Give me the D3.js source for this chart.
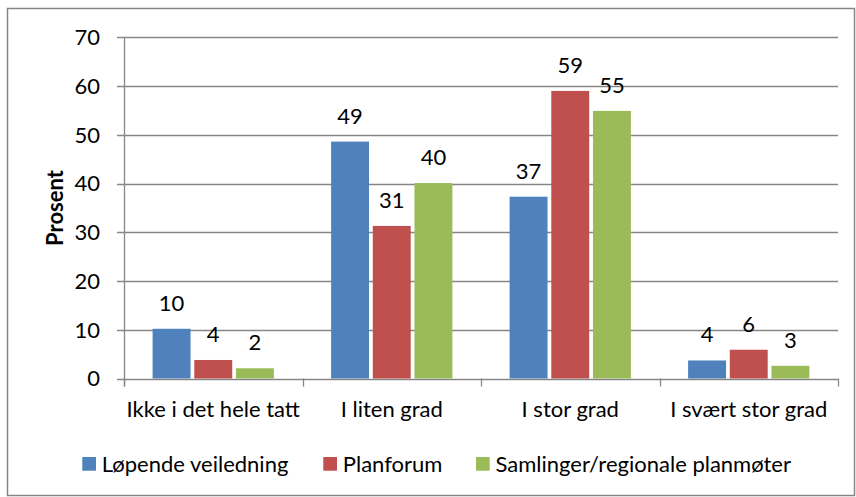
<!DOCTYPE html>
<html>
<head>
<meta charset="utf-8">
<script src="https://cdn.jsdelivr.net/npm/d3@7"></script>
<style>
  body { margin: 0; background: #fff; }
  text { font-family: "Lato", "Open Sans", sans-serif; fill: #000; }
</style>
</head>
<body>
<div id="chart"></div>
<script>
// Categories, series and values
let categories = ["Ikke i det hele tatt", "I liten grad", "I stor grad", "I svært stor grad"];
let series = ["Løpende veiledning", "Planforum", "Samlinger/regionale planmøter"];
let colors = ["#4F81BD", "#C0504D", "#9BBB59"];
let lopende = [10.2, 48.6, 37.3, 3.7];
let planforum = [3.8, 31.3, 59.0, 5.9];
let samlinger = [2.1, 40.1, 54.9, 2.6];
let y_ticks = [0, 10, 20, 30, 40, 50, 60, 70];

let width = 856, height = 497;
let plot = {left: 124, right: 838, top: 37.3, bottom: 378.5};
let axis_color = "#868686";
let font_size = "22px";

let svg = d3.select("#chart")
            .append("svg")
            .attr("width", width)
            .attr("height", height);

// outer chart frame
svg.append("rect")
   .attr("x", 7.5).attr("y", 8.5)
   .attr("width", 847).attr("height", 487)
   .style("fill", "none")
   .style("stroke", axis_color)
   .style("stroke-width", 1.5);

let x0 = d3.scaleBand()
           .domain(categories)
           .range([plot.left, plot.right]);

let x1 = d3.scaleBand()
           .domain(series)
           .range([0, 121.3])
           .paddingInner(0.09);

let y = d3.scaleLinear()
          .domain([0, 70])
          .range([plot.bottom, plot.top]);

// gridlines
svg.append("g")
   .selectAll("line")
   .data(y_ticks)
   .enter()
   .append("line")
   .attr("x1", plot.left - 7)
   .attr("x2", plot.right)
   .attr("y1", d => Math.round(y(d)) + 0.5)
   .attr("y2", d => Math.round(y(d)) + 0.5)
   .style("stroke", axis_color)
   .style("stroke-width", 1.3);

// y tick labels
svg.append("g")
   .selectAll("text")
   .data(y_ticks)
   .enter()
   .append("text")
   .attr("x", 100)
   .attr("y", d => y(d))
   .attr("dy", "0.36em")
   .attr("text-anchor", "end")
   .style("font-size", font_size)
   .text(d => d);

// bars
let rows = categories.map((c, i) => ({cat: c, vals: [lopende[i], planforum[i], samlinger[i]]}));
let offset = (x0.bandwidth() - 121.3) / 2;

let groups = svg.append("g")
                .selectAll("g")
                .data(rows)
                .enter()
                .append("g")
                .attr("transform", d => "translate(" + (x0(d.cat) + offset) + ",0)");

groups.selectAll("rect")
      .data(d => d.vals.map((v, j) => ({key: series[j], value: v, j: j})))
      .enter()
      .append("rect")
      .attr("x", d => x1(d.key))
      .attr("y", d => y(d.value))
      .attr("width", x1.bandwidth())
      .attr("height", d => y(0) - y(d.value))
      .style("fill", d => colors[d.j]);

let f = d3.format(".0f");
groups.selectAll("text")
      .data(d => d.vals.map((v, j) => ({key: series[j], value: v})))
      .enter()
      .append("text")
      .attr("x", d => x1(d.key) + x1.bandwidth() / 2)
      .attr("y", d => y(d.value) - 18)
      .attr("text-anchor", "middle")
      .style("font-size", font_size)
      .text(d => f(d.value));

// axes lines
svg.append("line")
   .attr("x1", plot.left + 0.5).attr("x2", plot.left + 0.5)
   .attr("y1", plot.top).attr("y2", plot.bottom + 8)
   .style("stroke", axis_color).style("stroke-width", 1.3);

let bounds = categories.map(c => x0(c)).concat([plot.right]);
svg.append("g")
   .selectAll("line")
   .data(bounds)
   .enter()
   .append("line")
   .attr("x1", d => Math.round(d) + 0.5)
   .attr("x2", d => Math.round(d) + 0.5)
   .attr("y1", plot.bottom)
   .attr("y2", plot.bottom + 8)
   .style("stroke", axis_color)
   .style("stroke-width", 1.3);

// x labels
svg.append("g")
   .selectAll("text")
   .data(categories)
   .enter()
   .append("text")
   .attr("x", d => x0(d) + x0.bandwidth() / 2)
   .attr("y", 417)
   .attr("text-anchor", "middle")
   .style("font-size", font_size)
   .text(d => d);

// y title
svg.append("text")
   .attr("transform", "translate(63,208) rotate(-90)")
   .attr("text-anchor", "middle")
   .style("font-size", font_size)
   .style("font-weight", "bold")
   .text("Prosent");

// legend
let legend_x = [82.3, 323.3, 476];
let legend = svg.append("g")
                .selectAll("g")
                .data(series)
                .enter()
                .append("g")
                .attr("transform", (d, i) => "translate(" + legend_x[i] + ",457)");

legend.append("rect")
      .attr("width", 13.7)
      .attr("height", 13.7)
      .style("fill", (d, i) => colors[i]);

legend.append("text")
      .attr("x", 19.5)
      .attr("y", 15)
      .style("font-size", font_size)
      .text(d => d);
</script>
</body>
</html>
